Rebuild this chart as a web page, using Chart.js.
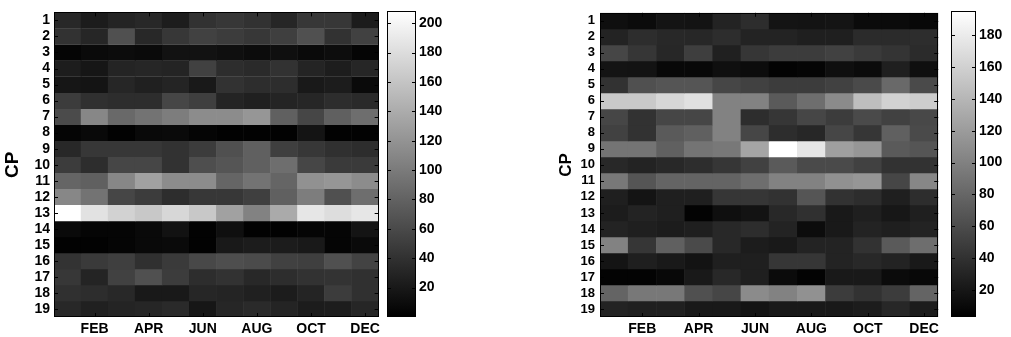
<!DOCTYPE html>
<html>
<head>
<meta charset="utf-8">
<script src="https://cdn.jsdelivr.net/npm/chart.js@4.4.0/dist/chart.umd.min.js"></script>
<style>
  body { margin: 0; background: #fff; width: 1011px; height: 337px; position: relative; overflow: hidden; }
  canvas { position: absolute; top: 0; }
</style>
</head>
<body>
<canvas id="heatLeft" width="384" height="337" style="left:0px"></canvas>
<canvas id="barLeft" width="70" height="337" style="left:384px"></canvas>
<canvas id="heatRight" width="387" height="337" style="left:556px"></canvas>
<canvas id="barRight" width="66" height="337" style="left:945px"></canvas>
<script>
const months = ['JAN', 'FEB', 'MAR', 'APR', 'MAY', 'JUN', 'JUL', 'AUG', 'SEP', 'OCT', 'NOV', 'DEC'];
const cpRows = [1, 2, 3, 4, 5, 6, 7, 8, 9, 10, 11, 12, 13, 14, 15, 16, 17, 18, 19];

// valores del mapa izquierdo (fila = CP, columna = mes)
const leftValues = [
  [33, 23, 29, 33, 24, 41, 45, 41, 31, 45, 45, 23],
  [41, 31, 65, 33, 45, 53, 49, 45, 51, 65, 41, 53],
  [4, 8, 10, 8, 15, 15, 12, 10, 12, 8, 11, 4],
  [24, 18, 29, 31, 29, 53, 37, 34, 41, 29, 24, 31],
  [18, 16, 31, 26, 29, 20, 41, 37, 37, 20, 23, 8],
  [49, 39, 37, 37, 57, 51, 29, 26, 29, 31, 37, 34],
  [61, 110, 86, 94, 102, 114, 114, 122, 78, 57, 78, 90],
  [4, 7, 2, 7, 8, 4, 2, 2, 2, 16, 2, 2],
  [33, 45, 45, 45, 41, 49, 65, 78, 51, 45, 39, 37],
  [49, 37, 57, 57, 41, 64, 69, 78, 90, 57, 47, 47],
  [82, 78, 110, 131, 114, 114, 82, 94, 82, 118, 122, 114],
  [110, 94, 57, 49, 37, 45, 45, 51, 78, 102, 65, 90],
  [208, 184, 171, 163, 175, 163, 131, 106, 139, 188, 180, 188],
  [8, 4, 4, 7, 15, 2, 12, 2, 2, 4, 4, 16],
  [2, 2, 4, 7, 8, 2, 20, 23, 23, 20, 4, 8],
  [42, 47, 51, 39, 47, 59, 64, 61, 53, 51, 65, 55],
  [45, 29, 53, 65, 49, 37, 41, 33, 37, 41, 42, 39],
  [39, 37, 33, 20, 20, 31, 29, 26, 23, 29, 49, 39],
  [33, 26, 29, 31, 34, 18, 31, 34, 29, 23, 24, 31]
];

// valores del mapa derecho
const rightValues = [
  [14, 11, 18, 17, 29, 37, 18, 17, 18, 11, 11, 9],
  [29, 37, 33, 32, 37, 29, 29, 26, 26, 35, 35, 37],
  [56, 44, 32, 50, 27, 44, 48, 48, 52, 47, 42, 35],
  [18, 17, 9, 9, 14, 12, 5, 7, 14, 11, 26, 14],
  [41, 63, 67, 67, 56, 52, 48, 48, 52, 59, 82, 59],
  [154, 154, 165, 172, 101, 101, 71, 86, 108, 146, 161, 157],
  [56, 41, 56, 56, 101, 37, 44, 56, 48, 59, 52, 57],
  [52, 41, 71, 75, 101, 56, 37, 32, 56, 44, 75, 59],
  [90, 90, 75, 90, 93, 127, 195, 176, 123, 116, 71, 67],
  [33, 29, 33, 37, 44, 52, 71, 59, 59, 52, 41, 41],
  [93, 67, 78, 78, 78, 86, 101, 101, 112, 116, 56, 105],
  [26, 18, 26, 26, 44, 44, 41, 67, 41, 37, 26, 37],
  [24, 29, 26, 5, 14, 17, 33, 39, 22, 26, 20, 26],
  [29, 26, 24, 26, 33, 37, 29, 12, 22, 29, 26, 29],
  [101, 44, 75, 59, 33, 24, 22, 29, 29, 41, 71, 86],
  [18, 26, 22, 17, 26, 26, 44, 44, 29, 33, 29, 22],
  [5, 5, 9, 22, 33, 26, 11, 5, 22, 22, 11, 9],
  [78, 93, 93, 63, 56, 108, 101, 112, 48, 41, 48, 78],
  [29, 27, 27, 22, 22, 18, 22, 22, 22, 24, 32, 24]
];

const leftRange = [0, 208];
const rightRange = [3, 195];
const leftBarTicks = [20, 40, 60, 80, 100, 120, 140, 160, 180, 200];
const rightBarTicks = [20, 40, 60, 80, 100, 120, 140, 160, 180];

function grayOf(v, range) {
  let t = (v - range[0]) / (range[1] - range[0]);
  t = Math.max(0, Math.min(1, t));
  const g = Math.round(t * 255);
  return `rgb(${g},${g},${g})`;
}

// marco negro y marcas hacia dentro, estilo matlab
const framePlugin = {
  id: 'frame',
  afterDraw(chart, args, opts) {
    const { ctx, chartArea: a } = chart;
    ctx.save();
    ctx.strokeStyle = '#000';
    ctx.lineWidth = 1;
    ctx.beginPath();
    const len = 4;
    if (opts.xTicks) {
      const xs = chart.scales.x;
      opts.xTicks.forEach(i => {
        const px = Math.round(xs.getPixelForValue(i)) + 0.5;
        ctx.moveTo(px, a.top); ctx.lineTo(px, a.top + len);
        ctx.moveTo(px, a.bottom); ctx.lineTo(px, a.bottom - len);
      });
    }
    if (opts.yTicks) {
      const ys = chart.scales.y;
      opts.yTicks.forEach(v => {
        const py = Math.round(ys.getPixelForValue(v)) + 0.5;
        ctx.moveTo(a.left, py); ctx.lineTo(a.left + len, py);
        ctx.moveTo(a.right, py); ctx.lineTo(a.right - len, py);
      });
    }
    ctx.stroke();
    ctx.strokeRect(Math.round(a.left) + 0.5, Math.round(a.top) + 0.5,
      Math.round(a.right - a.left) - 1, Math.round(a.bottom - a.top) - 1);
    ctx.restore();
  }
};

function makeHeatmap(id, values, range, opt) {
  const datasets = values.map((row, i) => ({
    label: 'CP ' + cpRows[i],
    data: row.map(() => [cpRows[i] - 0.5, cpRows[i] + 0.52]),
    backgroundColor: row.map(v => grayOf(v, range)),
    borderWidth: 0,
    barPercentage: 1.02,
    categoryPercentage: 1,
    grouped: false
  }));
  return new Chart(document.getElementById(id), {
    type: 'bar',
    data: { labels: months, datasets: datasets },
    plugins: [framePlugin],
    options: {
      responsive: false,
      animation: false,
      layout: { padding: { top: 8, right: 2, left: 0, bottom: 0 } },
      plugins: {
        legend: { display: false },
        tooltip: { enabled: false },
        frame: { xTicks: [1, 3, 5, 7, 9, 11], yTicks: cpRows }
      },
      scales: {
        x: {
          grid: { display: false, drawTicks: false },
          border: { display: false },
          ticks: {
            autoSkip: false, maxRotation: 0, color: '#000', padding: 4,
            font: { family: 'Liberation Sans', weight: 'bold', size: opt.xFont },
            callback: (val, idx) => (idx % 2 === 1 ? months[idx] : '')
          },
          afterFit: s => { s.height = 20; }
        },
        y: {
          min: 0.5, max: 19.5, reverse: true,
          grid: { display: false, drawTicks: false },
          border: { display: false },
          afterBuildTicks: s => { s.ticks = cpRows.map(v => ({ value: v })); },
          ticks: {
            color: '#000', padding: opt.yPad, autoSkip: false,
            font: { family: 'Liberation Sans', weight: 'bold', size: opt.yFont }
          },
          title: {
            display: true, text: 'CP', color: '#000', padding: { top: opt.titlePad, bottom: 0 },
            font: { family: 'Liberation Sans', weight: 'bold', size: opt.titleFont }
          },
          afterFit: s => { s.width = opt.axisWidth; }
        }
      }
    }
  });
}

function makeColorbar(id, range, tickValues, opt) {
  return new Chart(document.getElementById(id), {
    type: 'bar',
    data: {
      labels: [''],
      datasets: [{
        data: [[range[0], range[1]]],
        backgroundColor: (c) => {
          const area = c.chart.chartArea;
          if (!area) return '#808080';
          const g = c.chart.ctx.createLinearGradient(0, area.bottom, 0, area.top);
          g.addColorStop(0, '#000');
          g.addColorStop(1, '#fff');
          return g;
        },
        borderWidth: 0,
        barPercentage: 1,
        categoryPercentage: 1
      }]
    },
    plugins: [framePlugin],
    options: {
      responsive: false,
      animation: false,
      layout: { padding: { top: 8, bottom: 20, left: opt.left, right: 0 } },
      plugins: {
        legend: { display: false },
        tooltip: { enabled: false },
        frame: { yTicks: tickValues }
      },
      scales: {
        x: { display: false },
        y: {
          position: 'right',
          min: range[0], max: range[1],
          grid: { display: false, drawTicks: false },
          border: { display: false },
          afterBuildTicks: s => { s.ticks = tickValues.map(v => ({ value: v })); },
          ticks: {
            color: '#000', padding: 3,
            font: { family: 'Liberation Sans', weight: 'bold', size: opt.font }
          },
          afterFit: s => { s.width = opt.axisWidth; }
        }
      }
    }
  });
}

makeHeatmap('heatLeft', leftValues, leftRange,
  { xFont: 14, yFont: 14, yPad: 4, axisWidth: 54, titleFont: 19, titlePad: 1 });
makeColorbar('barLeft', leftRange, leftBarTicks, { font: 14, left: 3, axisWidth: 38 });
makeHeatmap('heatRight', rightValues, rightRange,
  { xFont: 14, yFont: 13, yPad: 5, axisWidth: 44, titleFont: 17, titlePad: 0 });
makeColorbar('barRight', rightRange, rightBarTicks, { font: 14, left: 6, axisWidth: 35 });
</script>
</body>
</html>
